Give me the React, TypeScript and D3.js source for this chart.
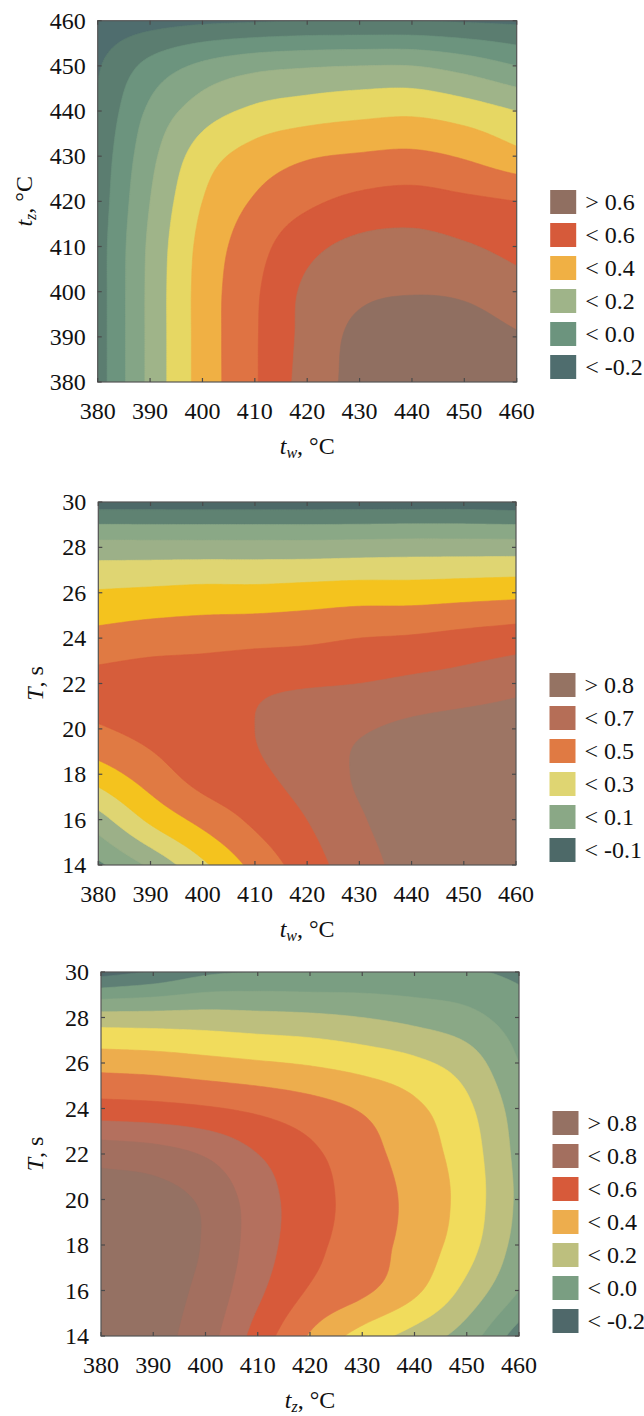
import React from 'react';
import * as d3 from 'd3';

// Axis sample positions
const WALL_TEMPS = [380, 390, 400, 410, 420, 430, 440, 450, 460]; // t_w, °C
const ZONE_TEMPS = [380, 390, 400, 410, 420, 430, 440, 450, 460]; // t_z, °C
const TIMES = [14, 16, 18, 20, 22, 24, 26, 28, 30]; // T, s

// Response over t_w (columns) × t_z (rows from 380 up to 460)
const responseTwTz = [
  [-0.15, 0.125, 0.34, 0.49, 0.64, 0.73, 0.77, 0.78, 0.77],
  [-0.15, 0.125, 0.34, 0.49, 0.63, 0.725, 0.76, 0.75, 0.71],
  [-0.15, 0.125, 0.34, 0.485, 0.62, 0.68, 0.695, 0.685, 0.64],
  [-0.15, 0.12, 0.33, 0.46, 0.57, 0.625, 0.635, 0.61, 0.57],
  [-0.16, 0.1, 0.3, 0.41, 0.48, 0.525, 0.54, 0.52, 0.5],
  [-0.17, 0.07, 0.25, 0.34, 0.39, 0.41, 0.42, 0.39, 0.33],
  [-0.19, 0.02, 0.15, 0.22, 0.25, 0.27, 0.28, 0.25, 0.2],
  [-0.21, -0.07, 0.02, 0.07, 0.09, 0.1, 0.1, 0.06, 0.0],
  [-0.26, -0.24, -0.22, -0.21, -0.2, -0.2, -0.2, -0.21, -0.22],
];
const levelsTwTz = [-0.2, -0.1, 0, 0.1, 0.2, 0.3, 0.4, 0.5, 0.6, 0.7];
const bandColorsTwTz = ['#4f6d6e', '#5b7d70', '#6c947e', '#84a586', '#9fb489', '#e6d763', '#f0b044', '#df7343', '#d65a3a', '#b07259', '#906f61'];
const legendTwTz: [string, number][] = [['>', 0.6], ['<', 0.6], ['<', 0.4], ['<', 0.2], ['<', 0.0], ['<', -0.2]];

// Response over t_w (columns) × T (rows from 14 s up to 30 s)
const responseTwT = [
  [-0.02, 0.12, 0.28, 0.43, 0.55, 0.66, 0.73, 0.75, 0.76],
  [0.16, 0.32, 0.43, 0.52, 0.6, 0.69, 0.74, 0.76, 0.77],
  [0.35, 0.45, 0.54, 0.58, 0.64, 0.71, 0.74, 0.76, 0.77],
  [0.49, 0.53, 0.57, 0.6, 0.66, 0.69, 0.72, 0.74, 0.75],
  [0.53, 0.55, 0.56, 0.58, 0.59, 0.6, 0.62, 0.64, 0.67],
  [0.43, 0.45, 0.46, 0.47, 0.48, 0.5, 0.51, 0.53, 0.55],
  [0.31, 0.32, 0.33, 0.33, 0.34, 0.35, 0.35, 0.36, 0.37],
  [0.14, 0.14, 0.14, 0.14, 0.14, 0.145, 0.15, 0.15, 0.15],
  [-0.15, -0.15, -0.15, -0.15, -0.15, -0.15, -0.15, -0.15, -0.16],
];
const levelsTwT = [-0.1, 0, 0.1, 0.2, 0.3, 0.4, 0.5, 0.6, 0.7, 0.8];
const bandColorsTwT = ['#4d6968', '#5f8272', '#8aa886', '#9cb088', '#dfd572', '#f4c31e', '#e07a43', '#d65d3b', '#b56e57', '#9d7564', '#957363'];
const legendTwT: [string, number][] = [['>', 0.8], ['<', 0.7], ['<', 0.5], ['<', 0.3], ['<', 0.1], ['<', -0.1]];

// Response over t_z (columns) × T (rows from 14 s up to 30 s)
const responseTzT = [
  [0.83, 0.83, 0.74, 0.56, 0.39, 0.26, 0.16, 0.05, -0.15],
  [0.85, 0.84, 0.77, 0.62, 0.49, 0.42, 0.32, 0.17, 0.0],
  [0.86, 0.85, 0.79, 0.65, 0.53, 0.45, 0.36, 0.24, 0.06],
  [0.85, 0.84, 0.78, 0.65, 0.54, 0.46, 0.37, 0.26, 0.08],
  [0.76, 0.74, 0.69, 0.6, 0.52, 0.44, 0.35, 0.25, 0.07],
  [0.54, 0.53, 0.51, 0.48, 0.44, 0.39, 0.32, 0.22, 0.05],
  [0.36, 0.35, 0.33, 0.31, 0.29, 0.26, 0.22, 0.15, 0.0],
  [0.14, 0.14, 0.14, 0.13, 0.12, 0.1, 0.07, 0.03, -0.05],
  [-0.24, -0.19, -0.12, -0.1, -0.1, -0.09, -0.09, -0.09, -0.12],
];
const levelsTzT = [-0.2, -0.1, 0, 0.1, 0.2, 0.3, 0.4, 0.5, 0.6, 0.7, 0.8];
const bandColorsTzT = ['#4f686a', '#5e7f75', '#7a9e82', '#8aa886', '#bdbf7e', '#f1dc5c', '#edad4d', '#e07446', '#d75a3a', '#b4705e', '#a36f5f', '#957163'];
const legendTzT: [string, number][] = [['>', 0.8], ['<', 0.8], ['<', 0.6], ['<', 0.4], ['<', 0.2], ['<', 0.0], ['<', -0.2]];

const FONT = '"Liberation Serif", "Times New Roman", serif';
const SUB = 20;

function cubic(p0: number, p1: number, p2: number, p3: number, t: number) {
  return p1 + 0.5 * t * (p2 - p0 + t * (2 * p0 - 5 * p1 + 4 * p2 - p3 + t * (3 * (p1 - p2) + p3 - p0)));
}

// Smooth resampling of a coarse grid for contour tracing
function resample(grid: number[][], sub: number) {
  const rows = grid.length;
  const cols = grid[0].length;
  const g = (r: number, c: number): number => {
    if (r < 0) return 2 * g(0, c) - g(1, c);
    if (r >= rows) return 2 * g(rows - 1, c) - g(rows - 2, c);
    if (c < 0) return 2 * g(r, 0) - g(r, 1);
    if (c >= cols) return 2 * g(r, cols - 1) - g(r, cols - 2);
    return grid[r][c];
  };
  const nx = (cols - 1) * sub + 1;
  const ny = (rows - 1) * sub + 1;
  const values = new Array(nx * ny);
  for (let j = 0; j < ny; j++) {
    const v = j / sub;
    const r = Math.min(Math.floor(v), rows - 2);
    const tv = v - r;
    for (let i = 0; i < nx; i++) {
      const u = i / sub;
      const c = Math.min(Math.floor(u), cols - 2);
      const tu = u - c;
      const cv = [-1, 0, 1, 2].map((dr) =>
        cubic(g(r + dr, c - 1), g(r + dr, c), g(r + dr, c + 1), g(r + dr, c + 2), tu)
      );
      values[j * nx + i] = cubic(cv[0], cv[1], cv[2], cv[3], tv);
    }
  }
  return { values, nx, ny };
}

type Panel = {
  id: string;
  left: number;
  right: number;
  top: number;
  bottom: number;
  xs: number[];
  ys: number[];
  grid: number[][];
  levels: number[];
  colors: string[];
  legend: [string, number][];
  xTitle: [string, string, string];
  yTitle: [string, string, string];
  yTitleX: number;
};

const panels: Panel[] = [
  {
    id: 'p1', left: 97.7, right: 516.7, top: 20.7, bottom: 382,
    xs: WALL_TEMPS, ys: ZONE_TEMPS, grid: responseTwTz,
    levels: levelsTwTz, colors: bandColorsTwTz, legend: legendTwTz,
    xTitle: ['t', 'w', ', °C'], yTitle: ['t', 'z', ', °C'], yTitleX: 32,
  },
  {
    id: 'p2', left: 98.3, right: 516, top: 502, bottom: 865,
    xs: WALL_TEMPS, ys: TIMES, grid: responseTwT,
    levels: levelsTwT, colors: bandColorsTwT, legend: legendTwT,
    xTitle: ['t', 'w', ', °C'], yTitle: ['T', '', ', s'], yTitleX: 43,
  },
  {
    id: 'p3', left: 101, right: 519, top: 972, bottom: 1336,
    xs: ZONE_TEMPS, ys: TIMES, grid: responseTzT,
    levels: levelsTzT, colors: bandColorsTzT, legend: legendTzT,
    xTitle: ['t', 'z', ', °C'], yTitle: ['T', '', ', s'], yTitleX: 43,
  },
];

function Title({ parts }: { parts: [string, string, string] }) {
  const [main, sub, rest] = parts;
  return (
    <>
      <tspan fontStyle="italic">{main}</tspan>
      {sub ? (
        <tspan fontStyle="italic" fontSize={16} dy={4}>{sub}</tspan>
      ) : null}
      <tspan dy={sub ? -4 : 0}>{rest}</tspan>
    </>
  );
}

function ContourPanel({ p }: { p: Panel }) {
  const x = d3.scaleLinear().domain([p.xs[0], p.xs[p.xs.length - 1]]).range([p.left, p.right]);
  const y = d3.scaleLinear().domain([p.ys[0], p.ys[p.ys.length - 1]]).range([p.bottom, p.top]);
  const { values, nx, ny } = resample(p.grid, SUB);
  const sx = (p.xs[p.xs.length - 1] - p.xs[0]) / (nx - 1);
  const sy = (p.ys[p.ys.length - 1] - p.ys[0]) / (ny - 1);
  const bands = d3.contours().size([nx, ny]).thresholds(p.levels)(values);
  const projection = d3.geoTransform({
    point(px: number, py: number) {
      (this as any).stream.point(x(p.xs[0] + (px - 0.5) * sx), y(p.ys[0] + (py - 0.5) * sy));
    },
  });
  const path = d3.geoPath(projection as any);
  const w = p.right - p.left;
  const h = p.bottom - p.top;
  const tick = 4;
  const tickColor = '#4a4a4a';

  const nEntries = p.legend.length;
  const step = 33;
  const sw = 26;
  const sh = 24;
  const legendLeft = p.right + 33.5;
  const firstTop = p.bottom - 27 - (nEntries - 1) * step;
  const colorFor = (op: string, v: number) => {
    if (op === '>') return p.colors[p.colors.length - 1];
    const k = p.levels.findIndex((l) => Math.abs(l - v) < 1e-9);
    return p.colors[k];
  };

  return (
    <g>
      <defs>
        <clipPath id={`clip-${p.id}`}>
          <rect x={p.left} y={p.top} width={w} height={h} />
        </clipPath>
      </defs>
      <g clipPath={`url(#clip-${p.id})`}>
        <rect x={p.left} y={p.top} width={w} height={h} fill={p.colors[0]} />
        {bands.map((b, i) => (
          <path key={i} d={path(b as any) || ''} fill={p.colors[i + 1]} stroke={p.colors[i + 1]} strokeWidth={0.6} />
        ))}
      </g>
      <rect x={p.left} y={p.top} width={w} height={h} fill="none" stroke="#555" strokeWidth={1.2} />
      {p.xs.map((v) => (
        <g key={`xt${v}`}>
          <line x1={x(v)} x2={x(v)} y1={p.bottom} y2={p.bottom - tick} stroke={tickColor} strokeWidth={1.2} />
          <line x1={x(v)} x2={x(v)} y1={p.top} y2={p.top + tick} stroke={tickColor} strokeWidth={1.2} />
          <text x={x(v)} y={p.bottom + 37} textAnchor="middle" fontSize={24} fontFamily={FONT} fill="#111">{v}</text>
        </g>
      ))}
      {p.ys.map((v) => (
        <g key={`yt${v}`}>
          <line x1={p.left} x2={p.left + tick} y1={y(v)} y2={y(v)} stroke={tickColor} strokeWidth={1.2} />
          <line x1={p.right} x2={p.right - tick} y1={y(v)} y2={y(v)} stroke={tickColor} strokeWidth={1.2} />
          <text x={p.left - 12} y={y(v) + 8} textAnchor="end" fontSize={24} fontFamily={FONT} fill="#111">{v}</text>
        </g>
      ))}
      <text x={(p.left + p.right) / 2} y={p.bottom + 72} textAnchor="middle" fontSize={24} fontFamily={FONT} fill="#111">
        <Title parts={p.xTitle} />
      </text>
      <text
        transform={`translate(${p.yTitleX},${(p.top + p.bottom) / 2}) rotate(-90)`}
        textAnchor="middle" fontSize={24} fontFamily={FONT} fill="#111"
      >
        <Title parts={p.yTitle} />
      </text>
      {p.legend.map(([op, v], i) => {
        const top = firstTop + i * step;
        return (
          <g key={`lg${i}`}>
            <rect x={legendLeft} y={top} width={sw} height={sh} fill={colorFor(op, v)} />
            <text x={legendLeft + sw + 9} y={top + sh / 2 + 8} fontSize={24} fontFamily={FONT} fill="#111">
              {`${op} ${v.toFixed(1)}`}
            </text>
          </g>
        );
      })}
    </g>
  );
}

export default function App() {
  return (
    <svg
      width={644}
      height={1416}
      viewBox="0 0 644 1416"
      style={{ position: 'absolute', left: 0, top: 0, background: '#fff' }}
    >
      {panels.map((p) => (
        <ContourPanel key={p.id} p={p} />
      ))}
    </svg>
  );
}
